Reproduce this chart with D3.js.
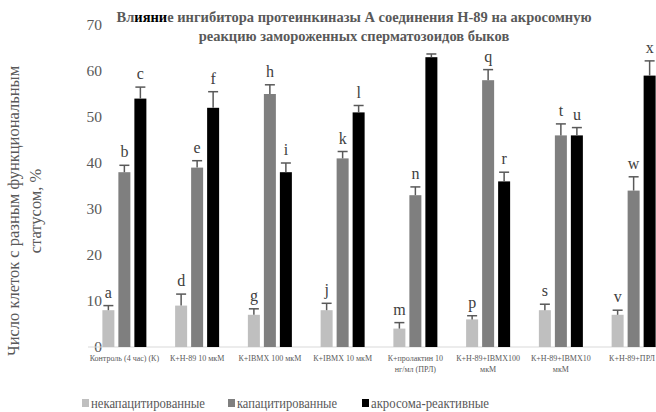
<!DOCTYPE html>
<html>
<head>
<meta charset="utf-8">
<script src="https://cdn.jsdelivr.net/npm/d3@7"></script>
<style>
  body { margin: 0; background: #fff; }
</style>
</head>
<body>
<div id="d3"></div>
<script>
var categories = [
    ["Контроль (4 час) (К)"],
    ["К+Н-89 10 мкМ"],
    ["К+IBMX 100 мкМ"],
    ["К+IBMX 10 мкМ"],
    ["К+пролактин 10", "нг/мл (ПРЛ)"],
    ["К+Н-89+IBMX100", "мкМ"],
    ["К+Н-89+IBMX10", "мкМ"],
    ["К+Н-89+ПРЛ"]
];
var seriesNames = ["некапацитированные", "капацитированные", "акросома-реактивные"];
var seriesColors = ["#bfbfbf", "#7f7f7f", "#000000"];

var uncapacitated = [8, 9, 7, 8, 4, 6, 8, 7];
var capacitated = [38, 39, 55, 41, 33, 58, 46, 34];
var acrosomeReacted = [54, 52, 38, 51, 63, 36, 46, 59];

var errUncap = [1, 2.5, 1.3, 1.5, 1.3, 0.8, 1.3, 1];
var errCap = [1.5, 1.5, 2, 1.5, 1.8, 2.3, 2.5, 3];
var errAcro = [2.5, 3.5, 2, 1.5, 0.7, 2, 1.7, 3.2];

var letters = [
    ["a", "b", "c"], ["d", "e", "f"], ["g", "h", "i"], ["j", "k", "l"],
    ["m", "n", "o"], ["p", "q", "r"], ["s", "t", "u"], ["v", "w", "x"]
];
// "o" sits under the title in the original, only n is visible for group 5
var hiddenLetters = ["o"];

var yTicks = [0, 10, 20, 30, 40, 50, 60, 70];

var width = 656, height = 412;
var textColor = "#595959";

var svg = d3.select("#d3").append("svg")
    .attr("width", width).attr("height", height)
    .attr("font-family", "'Liberation Serif'")
    .style("display", "block");

var values = [uncapacitated, capacitated, acrosomeReacted];
var errors = [errUncap, errCap, errAcro];
var data = [];
categories.forEach(function(c, i) {
    seriesNames.forEach(function(s, j) {
        data.push({ cat: i, series: s, sIndex: j, value: values[j][i], err: errors[j][i], letter: letters[i][j] });
    });
});

var x0 = d3.scaleBand().domain(d3.range(categories.length)).range([88, 670]);
var x1 = d3.scaleBand().domain(seriesNames).range([-22, 22]).paddingInner(0.25);
var y = d3.scaleLinear().domain([0, 70]).range([347, 25]);

function cx(d) {
    return x0(d.cat) + x0.bandwidth() / 2 + x1(d.series);
}

// y tick labels
svg.append("g").selectAll("text").data(yTicks).enter().append("text")
    .attr("x", 102)
    .attr("y", function(d) { return y(d); })
    .attr("dy", "0.33em")
    .attr("text-anchor", "end")
    .attr("font-size", 15.5)
    .attr("fill", textColor)
    .text(function(d) { return d; });

// baseline
svg.append("line")
    .attr("x1", 88).attr("x2", 656)
    .attr("y1", y(0)).attr("y2", y(0))
    .attr("stroke", "#d9d9d9").attr("stroke-width", 1);

// bars
svg.append("g").selectAll("rect").data(data).enter().append("rect")
    .attr("x", cx)
    .attr("y", function(d) { return y(d.value); })
    .attr("width", x1.bandwidth())
    .attr("height", function(d) { return y(0) - y(d.value); })
    .attr("fill", function(d) { return seriesColors[d.sIndex]; });

// error bars (upper only)
var eb = svg.append("g").attr("stroke", "#595959").attr("stroke-width", 1.5);
eb.selectAll("line.v").data(data).enter().append("line")
    .attr("class", "v")
    .attr("x1", function(d) { return cx(d) + x1.bandwidth() / 2; })
    .attr("x2", function(d) { return cx(d) + x1.bandwidth() / 2; })
    .attr("y1", function(d) { return y(d.value); })
    .attr("y2", function(d) { return y(d.value + d.err); });
eb.selectAll("line.c").data(data).enter().append("line")
    .attr("class", "c")
    .attr("x1", function(d) { return cx(d) + x1.bandwidth() / 2 - 5; })
    .attr("x2", function(d) { return cx(d) + x1.bandwidth() / 2 + 5; })
    .attr("y1", function(d) { return y(d.value + d.err); })
    .attr("y2", function(d) { return y(d.value + d.err); });

// significance letters
svg.append("g").selectAll("text")
    .data(data.filter(function(d) { return hiddenLetters.indexOf(d.letter) < 0; }))
    .enter().append("text")
    .attr("x", function(d) { return cx(d) + x1.bandwidth() / 2; })
    .attr("y", function(d) { return y(d.value + d.err) - 8; })
    .attr("text-anchor", "middle")
    .attr("font-size", 16)
    .attr("fill", "#404040")
    .text(function(d) { return d.letter; });

// category labels
var catG = svg.append("g").selectAll("text").data(categories).enter().append("text")
    .attr("text-anchor", "middle")
    .attr("font-size", 8)
    .attr("fill", textColor);
catG.selectAll("tspan").data(function(d, i) { return d.map(function(t) { return { t: t, i: i }; }); })
    .enter().append("tspan")
    .attr("x", function(d) { return Math.min(x0(d.i) + x0.bandwidth() / 2, 632); })
    .attr("y", function(d, k) { return 361 + k * 11; })
    .text(function(d) { return d.t; });

// title
var title = svg.append("text")
    .attr("text-anchor", "middle")
    .attr("font-size", 14.5)
    .attr("font-weight", "bold")
    .attr("fill", textColor);
var t1 = title.append("tspan").attr("x", 354).attr("y", 22);
t1.append("tspan").text("Вл");
t1.append("tspan").attr("fill", "#000").text("ияни");
t1.append("tspan").text("е ингибитора  протеинкиназы  А соединения Н-89 на акросомную");
title.append("tspan").attr("x", 354).attr("y", 41).text("реакцию замороженных сперматозоидов  быков");

// y axis title
var yTitle = svg.append("text")
    .attr("transform", "translate(0,211) rotate(-90)")
    .attr("text-anchor", "middle")
    .attr("font-size", 16.5)
    .attr("fill", textColor);
yTitle.append("tspan").attr("x", 0).attr("y", 19).text("Число клеток с разным функциональным");
yTitle.append("tspan").attr("x", 0).attr("y", 41).text("статусом, %");

// legend (text is horizontally condensed in the original)
var legendX = [82, 228, 362];
var legendW = [114, 100, 118];
var lg = svg.append("g").selectAll("g").data(seriesNames).enter().append("g")
    .attr("transform", function(d, i) { return "translate(" + legendX[i] + ",403)"; });
lg.append("rect")
    .attr("x", 0).attr("y", -4)
    .attr("width", 7).attr("height", 8)
    .attr("fill", function(d, i) { return seriesColors[i]; });
lg.append("text")
    .attr("x", 9).attr("y", 0)
    .attr("dy", "0.35em")
    .attr("font-size", 15)
    .attr("textLength", function(d, i) { return legendW[i]; })
    .attr("lengthAdjust", "spacingAndGlyphs")
    .attr("fill", textColor)
    .text(function(d) { return d; });
</script>
</body>
</html>
